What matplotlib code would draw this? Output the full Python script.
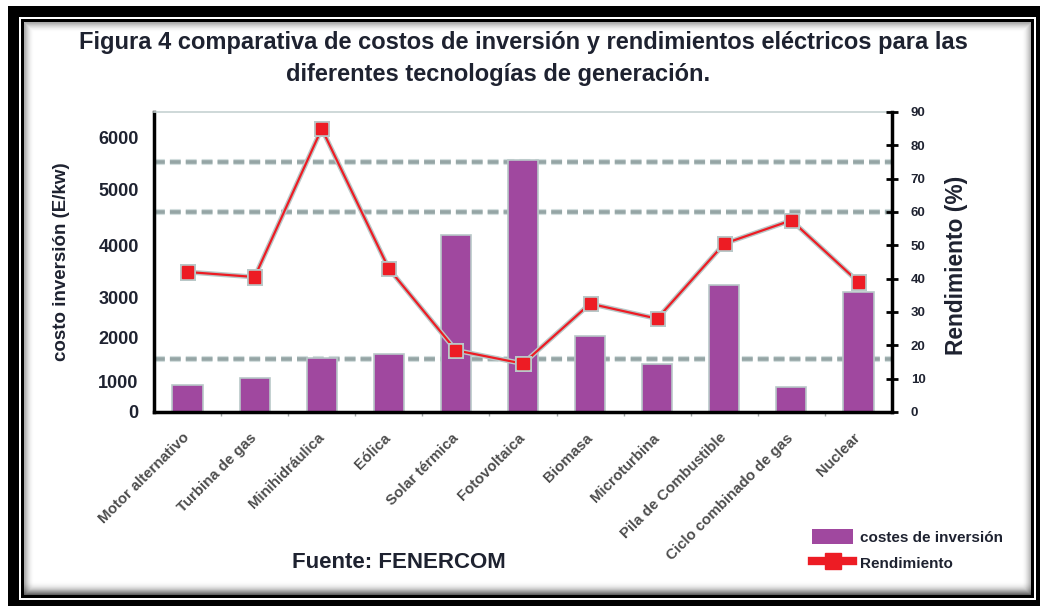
import numpy as np
import matplotlib.pyplot as plt
from matplotlib import patheffects as pe
from matplotlib.patches import Rectangle, Patch
from matplotlib.lines import Line2D
from matplotlib.transforms import blended_transform_factory

plt.rcParams['font.family'] = ['Liberation Sans', 'DejaVu Sans']

tecnologias = ['Motor alternativo', 'Turbina de gas', 'Minihidráulica', 'Eólica',
               'Solar térmica', 'Fotovoltaica', 'Biomasa', 'Microturbina',
               'Pila de Combustible', 'Ciclo combinado de gas', 'Nuclear']
costes = [900, 1090, 1530, 1620, 4180, 5570, 2030, 1400, 3250, 830, 3110]
rendimiento = [42, 40.5, 85, 43, 18.5, 14.5, 32.5, 28, 50.5, 57.5, 39]

cost_ticks = [0, 1000, 2000, 3000, 4000, 5000, 6000]
eff_ticks = [0, 10, 20, 30, 40, 50, 60, 70, 80, 90]
guide_levels = [16, 60, 75]   # dashed lines, read on the right axis

# the cost axis of the original is not evenly spaced:
# height of each label above the base line (px), axis top = 300 px
scale_vals = cost_ticks + [6500]
scale_px = [0, 30, 75, 114, 167, 223, 274, 300]


def fwd(v):
    return np.interp(v, scale_vals, scale_px)


def inv(p):
    return np.interp(p, scale_px, scale_vals)


PURPLE = '#A0489F'
RED = '#ED1C24'
HALO = '#b9c8c8'
TXT = '#1e2230'

W, H = 1043, 606
fig = plt.figure(figsize=(W / 100, H / 100), dpi=100)


def box(x0, y0, x1, y1, **kw):
    # rectangle in pixel coords, origin top left, kept behind the axes
    fig.patches.append(Rectangle((x0 / W, 1 - y1 / H), (x1 - x0) / W, (y1 - y0) / H,
                                 transform=fig.transFigure, figure=fig, zorder=-10, **kw))


# picture frame
box(8, 6, 1040, 606, color='black', lw=0)
box(19, 17, 1036, 600, color='white', lw=0)
box(21, 19, 1034, 598, color='black', lw=0)
box(24, 22, 1031, 595, color='white', lw=0)
for k in range(10):
    box(24 + k, 22 + k, 1031 - k, 595 - k, fill=False, edgecolor='black',
        lw=0.9, alpha=0.3 * (1 - k / 10) ** 2)
for k in range(14):
    box(24, 594 - k, 1031, 595 - k, color='black', lw=0, alpha=0.45 * (1 - k / 14) ** 2)

ax = fig.add_axes([154 / W, 1 - 412 / H, (892 - 154) / W, 300 / H])
ax2 = ax.twinx()

x = np.arange(len(tecnologias))

ax.set_yscale('function', functions=(fwd, inv))
ax.bar(x, costes, width=0.45, color=PURPLE, edgecolor=HALO, linewidth=1.2, zorder=2)

gtrans = blended_transform_factory(ax.transAxes, ax2.transData)
for lvl in guide_levels:
    ax.plot([0, 1], [lvl, lvl], transform=gtrans, color='#95a5a5', lw=2.6,
            ls=(0, (3, 1.4)), zorder=1, clip_on=False,
            path_effects=[pe.Stroke(linewidth=4.4, foreground='#d3dede'), pe.Normal()])

ax2.plot(x, rendimiento, color=RED, lw=1.6, marker='s', ms=8, zorder=3,
         path_effects=[pe.Stroke(linewidth=3.6, foreground=HALO), pe.Normal()])

ax.set_xlim(-0.5, len(tecnologias) - 0.5)
ax.set_ylim(0, 6500)
ax2.set_ylim(0, 90)

ax.set_yticks(cost_ticks)
ax.set_yticklabels([str(t) for t in cost_ticks], fontsize=13, fontweight='bold', color=TXT)
ax.tick_params(axis='y', length=0, pad=11)

ax2.set_yticks(eff_ticks)
ax2.set_yticklabels([str(t) for t in eff_ticks], fontsize=9.5, fontweight='bold', color=TXT)
ax2.tick_params(axis='y', direction='inout', length=9, width=2, pad=9)

ax.set_xticks(x)
ax.set_xticklabels(tecnologias, rotation=45, ha='right', va='center',
                   rotation_mode='anchor', fontsize=10.8, fontweight='bold', color='#4d4d4d')
ax.tick_params(axis='x', which='major', length=0, pad=17)
ax.set_xticks(x[:-1] + 0.5, minor=True)
ax.tick_params(axis='x', which='minor', length=3, width=1, color='#a0a8a8')

for s in ['left', 'bottom']:
    ax.spines[s].set_linewidth(2.5)
ax.spines['right'].set_visible(False)
ax.spines['top'].set_color('#c6d2d2')
ax.spines['top'].set_linewidth(1.2)
for s in ['left', 'top', 'bottom']:
    ax2.spines[s].set_visible(False)
ax2.spines['right'].set_linewidth(2.5)

fig.text(523 / W, 1 - 43 / H,
         'Figura 4 comparativa de costos de inversión y rendimientos eléctricos para las',
         ha='center', va='center', fontsize=17, fontweight='bold', color=TXT)
fig.text(498 / W, 1 - 75 / H, 'diferentes tecnologías de generación.',
         ha='center', va='center', fontsize=17, fontweight='bold', color=TXT)

fig.text(62 / W, 1 - 262 / H, 'costo inversión (E/kw)', rotation=90, ha='center',
         va='center', fontsize=13.5, fontweight='bold', color=TXT)
fig.text(956 / W, 1 - 265 / H, 'Rendimiento (%)', rotation=90, ha='center',
         va='center', fontsize=16.4, fontweight='bold', color=TXT)

fig.text(399 / W, 1 - 562 / H, 'Fuente: FENERCOM', ha='center', va='center',
         fontsize=16, fontweight='bold', color=TXT)

handles = [Patch(facecolor=PURPLE, edgecolor='none'),
           Line2D([], [], color=RED, lw=6, marker='s', ms=12)]
fig.legend(handles, ['costes de inversión', 'Rendimiento'], loc='upper left',
           bbox_to_anchor=(812 / W, 1 - 529 / H), frameon=False, numpoints=1,
           prop={'size': 11, 'weight': 'bold'}, handlelength=2.7, handleheight=1.1,
           handletextpad=0.45, labelspacing=0.7, borderpad=0, borderaxespad=0,
           labelcolor=TXT)

fig.savefig('out.png', dpi=100)
